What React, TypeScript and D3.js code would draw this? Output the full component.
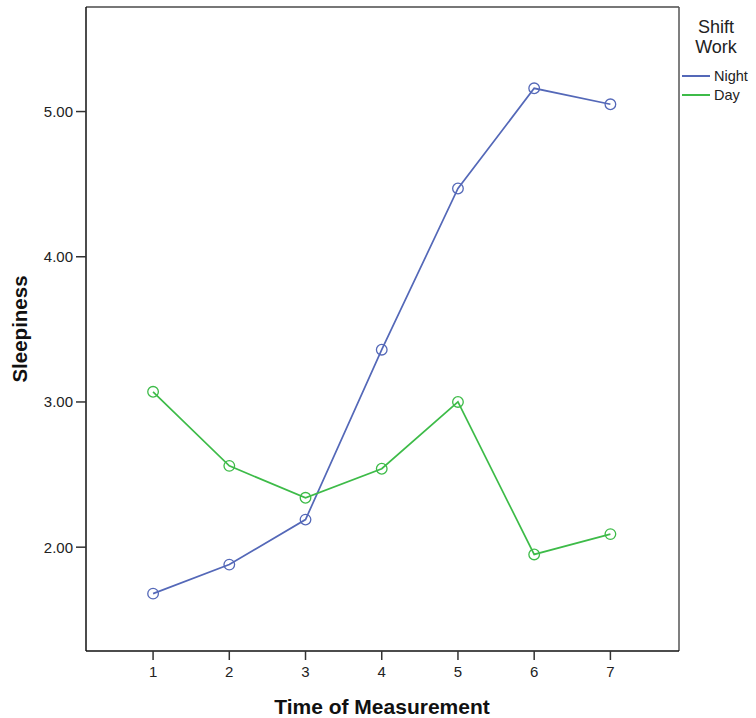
import React from "react";
import * as d3 from "d3";

const times = [1, 2, 3, 4, 5, 6, 7];
const nightValues = [1.68, 1.88, 2.19, 3.36, 4.47, 5.16, 5.05];
const dayValues = [3.07, 2.56, 2.34, 2.54, 3.0, 1.95, 2.09];
const yTicks = [2, 3, 4, 5];
const seriesNames = ["Night", "Day"];
const seriesColors = ["#5468b8", "#3dbb48"];

export default function App() {
  const W = 756, H = 718;
  const left = 86, right = 679, top = 7, bottom = 651;
  const x = d3.scaleLinear().domain([0.12, 7.9]).range([left, right]);
  const y = d3.scaleLinear().domain([1.285, 5.72]).range([bottom, top]);
  const line = d3.line<number>().x((_, i) => x(times[i])).y((d) => y(d));
  const series = [nightValues, dayValues];
  const font = "'Liberation Sans', Arial, sans-serif";
  return (
    <svg width={W} height={H} style={{ position: "absolute", left: 0, top: 0, background: "#fff" }} fontFamily={font}>
      <rect x={0} y={0} width={W} height={H} fill="#fff" />
      {/* frame */}
      <line x1={left} x2={right} y1={top} y2={top} stroke="#777" strokeWidth={2} />
      <line x1={right} x2={right} y1={top} y2={bottom} stroke="#555" strokeWidth={1.5} />
      <line x1={left} x2={left} y1={top} y2={bottom} stroke="#111" strokeWidth={1.5} />
      <line x1={left} x2={right} y1={bottom} y2={bottom} stroke="#111" strokeWidth={1.5} />
      {yTicks.map((t) => (
        <g key={t}>
          <line x1={left - 10} x2={left} y1={y(t)} y2={y(t)} stroke="#333" strokeWidth={1.5} />
          <text x={left - 13} y={y(t)} dy="0.36em" textAnchor="end" fontSize={15} fill="#222">
            {t.toFixed(2)}
          </text>
        </g>
      ))}
      {times.map((t) => (
        <g key={t}>
          <line x1={x(t)} x2={x(t)} y1={bottom} y2={bottom + 9} stroke="#333" strokeWidth={1.5} />
          <text x={x(t)} y={bottom + 26} textAnchor="middle" fontSize={15} fill="#222">
            {t}
          </text>
        </g>
      ))}
      {series.map((vals, si) => (
        <g key={si}>
          <path d={line(vals) || ""} fill="none" stroke={seriesColors[si]} strokeWidth={1.7} />
          {vals.map((v, i) => (
            <circle key={i} cx={x(times[i])} cy={y(v)} r={5.3} fill="none" stroke={seriesColors[si]} strokeWidth={1.3} />
          ))}
        </g>
      ))}
      <text x={382} y={714} textAnchor="middle" fontSize={21} fontWeight="bold" fill="#111">
        Time of Measurement
      </text>
      <text transform={`translate(27,${(top + bottom) / 2}) rotate(-90)`} textAnchor="middle" fontSize={20.5} fontWeight="bold" fill="#111">
        Sleepiness
      </text>
      {/* legend */}
      <text x={716} y={33} textAnchor="middle" fontSize={18} fill="#222">Shift</text>
      <text x={716} y={53} textAnchor="middle" fontSize={18} fill="#222">Work</text>
      {seriesNames.map((n, i) => (
        <g key={n}>
          <line x1={682} x2={710} y1={76 + i * 19} y2={76 + i * 19} stroke={seriesColors[i]} strokeWidth={2} />
          <text x={714} y={76 + i * 19} dy="0.36em" fontSize={14.5} fill="#222">{n}</text>
        </g>
      ))}
    </svg>
  );
}
